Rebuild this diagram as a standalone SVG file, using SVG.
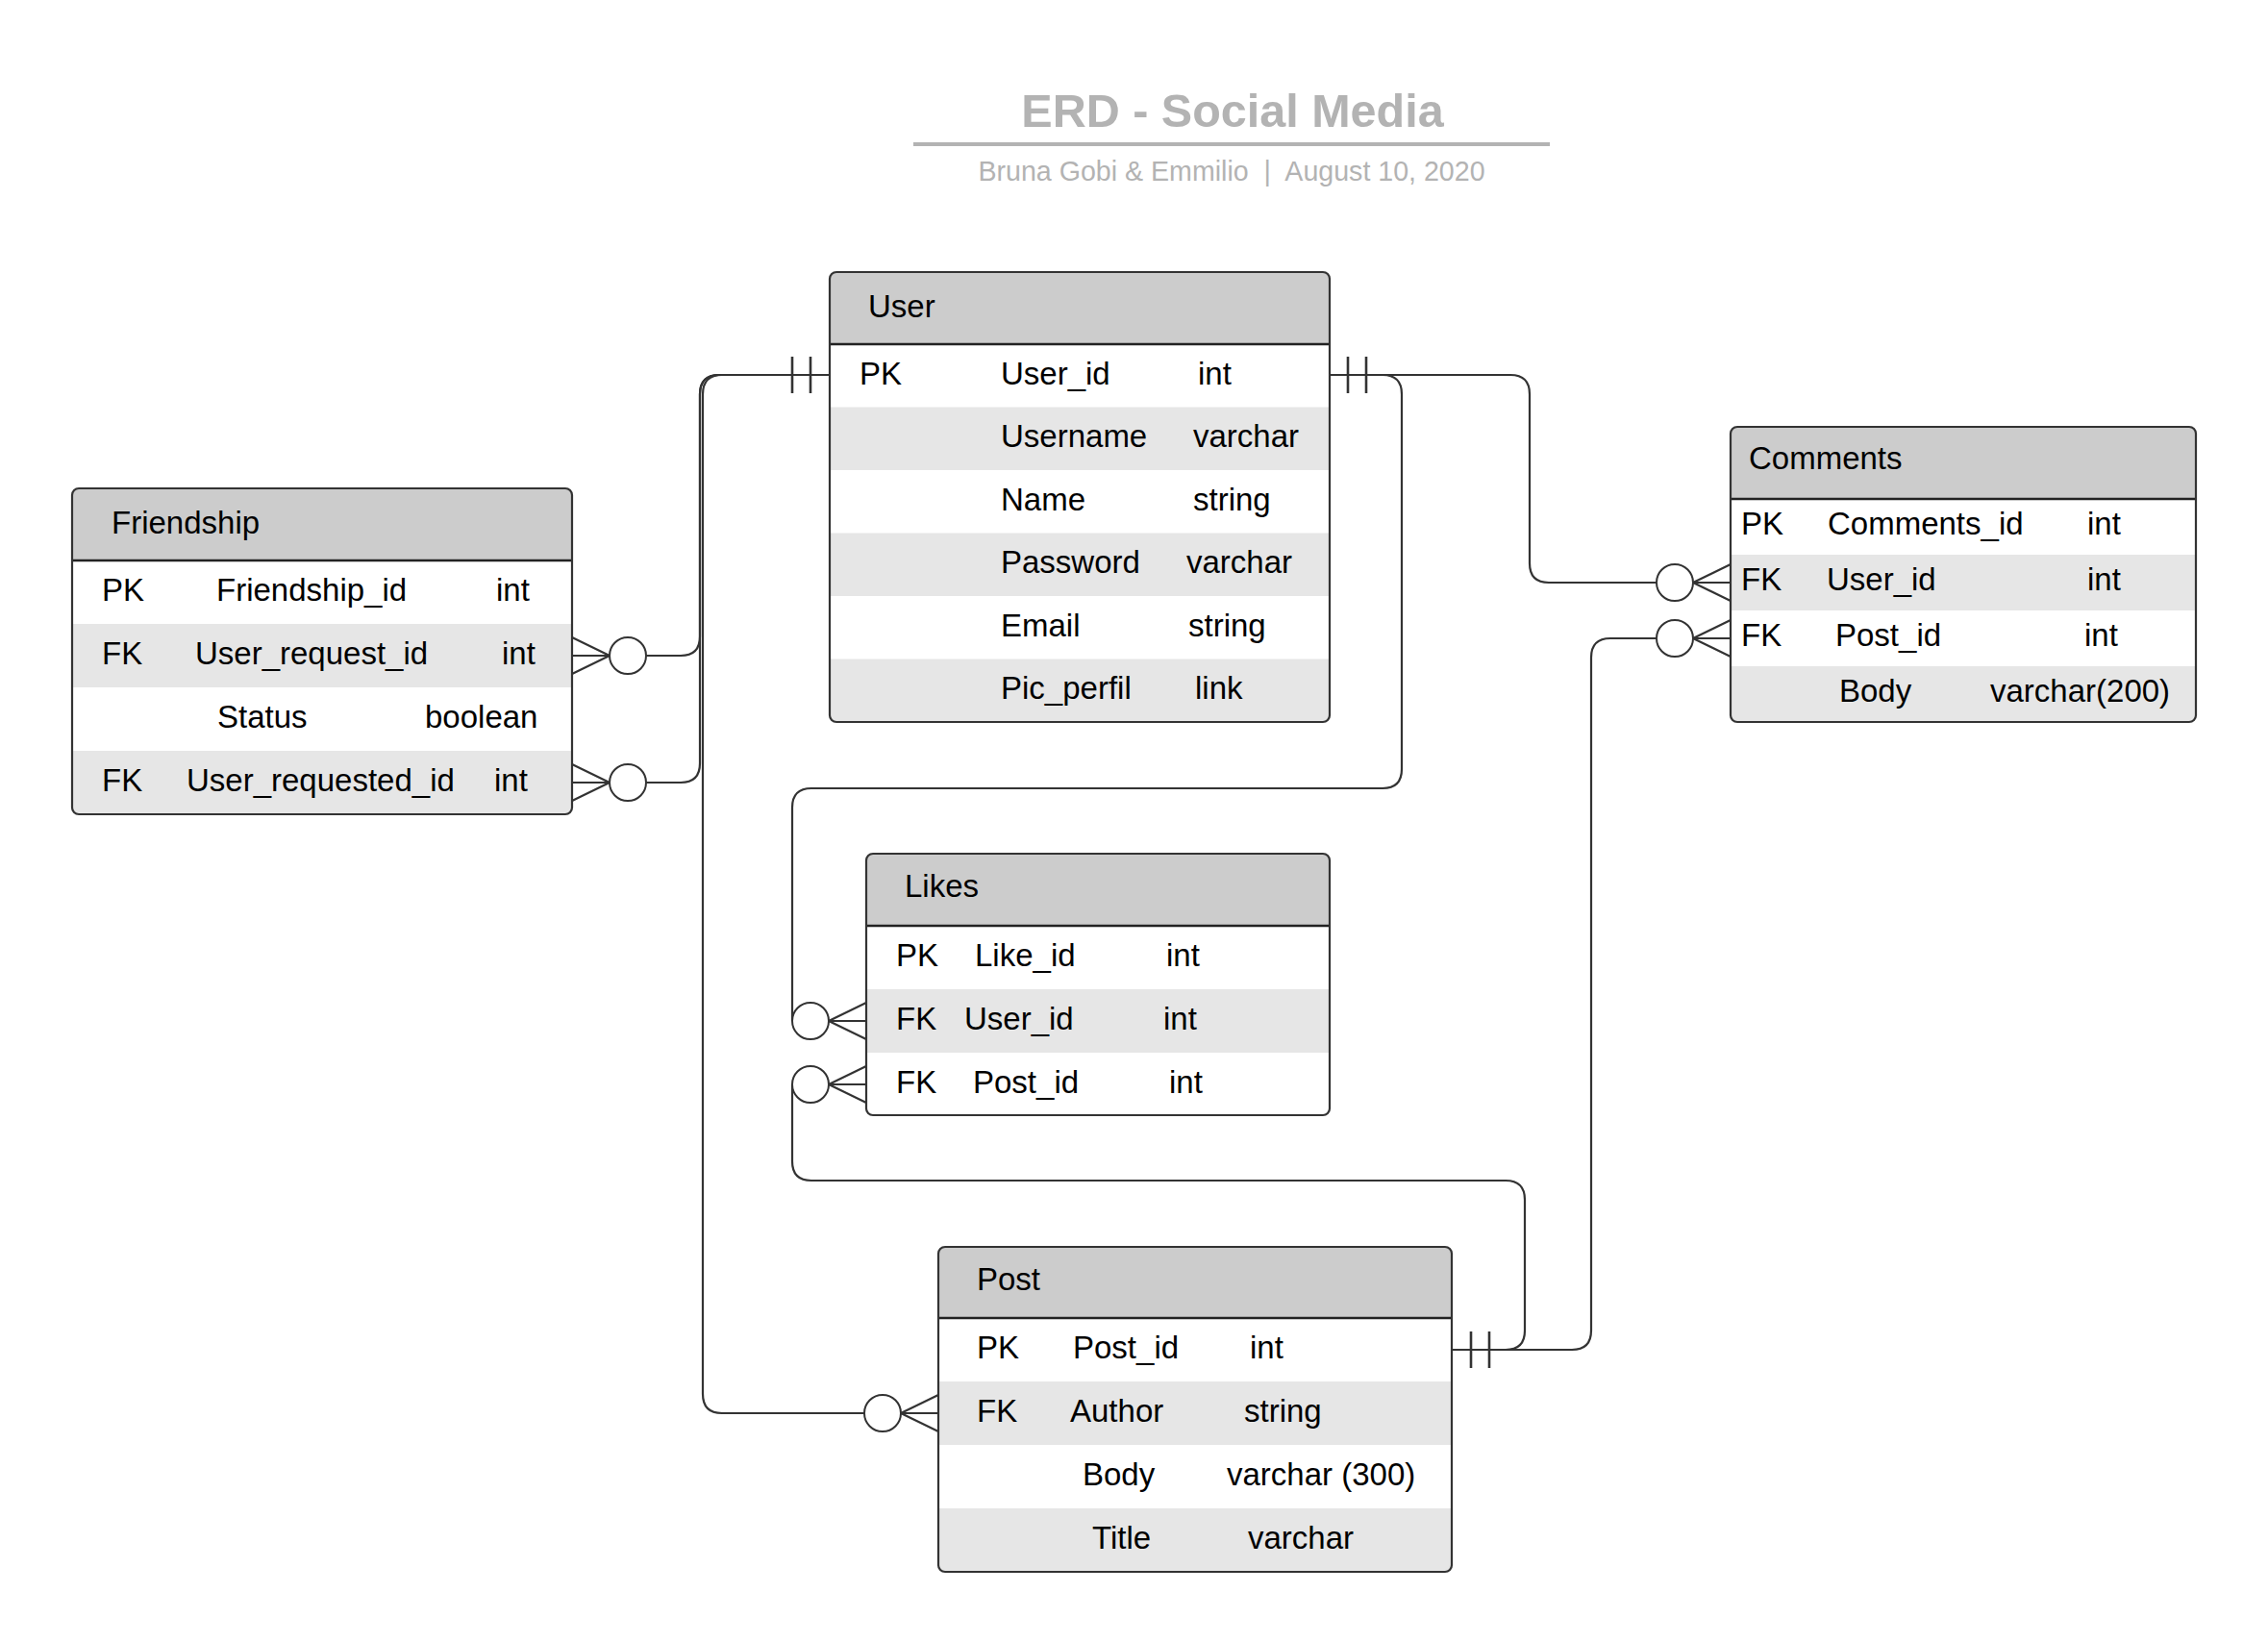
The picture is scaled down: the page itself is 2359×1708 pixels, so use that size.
<svg xmlns="http://www.w3.org/2000/svg" width="2359" height="1708" viewBox="0 0 2359 1708">
<style>
.t{font-family:"Liberation Sans",Arial,sans-serif;font-size:33px;fill:#000}
.hdr{fill:#cccccc}
.alt{fill:#e6e6e6}
.frame{fill:none;stroke:#333;stroke-width:2.2}
.sep{stroke:#222;stroke-width:2.5}
.ln{fill:none;stroke:#333;stroke-width:2.2}
.bar{stroke:#333;stroke-width:2.6}
.ring{fill:#fff;stroke:#333;stroke-width:2}
.ttl{font-family:"Liberation Sans",Arial,sans-serif;font-weight:bold;font-size:48.5px;fill:#b3b3b3}
.sub{font-family:"Liberation Sans",Arial,sans-serif;font-size:28.6px;fill:#b3b3b3}
</style>
<defs>
<clipPath id="cU"><rect x="863" y="283" width="520" height="468" rx="7"/></clipPath>
<clipPath id="cF"><rect x="75" y="508" width="520" height="339" rx="7"/></clipPath>
<clipPath id="cC"><rect x="1800" y="444" width="484" height="307" rx="7"/></clipPath>
<clipPath id="cL"><rect x="901" y="888" width="482" height="272" rx="7"/></clipPath>
<clipPath id="cP"><rect x="976" y="1297" width="534" height="338" rx="7"/></clipPath>
</defs>
<rect width="2359" height="1708" fill="#fff"/>

<g id="title">
<text class="ttl" x="1282" y="132" text-anchor="middle">ERD - Social Media</text>
<line x1="950" y1="150" x2="1612" y2="150" stroke="#b3b3b3" stroke-width="4"/>
<text class="sub" x="1281" y="188" text-anchor="middle" xml:space="preserve">Bruna Gobi &amp; Emmilio  |  August 10, 2020</text>
</g>

<g id="user">
<g clip-path="url(#cU)">
<rect x="863" y="283" width="520" height="468" fill="#fff"/>
<rect class="hdr" x="863" y="283" width="520" height="75"/>
<rect class="alt" x="863" y="423.5" width="520" height="65.5"/>
<rect class="alt" x="863" y="554.5" width="520" height="65.5"/>
<rect class="alt" x="863" y="685.5" width="520" height="65.5"/>
</g>
<line class="sep" x1="863" y1="358" x2="1383" y2="358"/>
<rect class="frame" x="863" y="283" width="520" height="468" rx="7"/>
<text class="t" x="903" y="330">User</text>
<text class="t" x="894" y="400">PK</text>
<text class="t" x="1041" y="400">User_id</text>
<text class="t" x="1246" y="400">int</text>
<text class="t" x="1041" y="465">Username</text>
<text class="t" x="1241" y="465">varchar</text>
<text class="t" x="1041" y="531">Name</text>
<text class="t" x="1241" y="531">string</text>
<text class="t" x="1041" y="596">Password</text>
<text class="t" x="1234" y="596">varchar</text>
<text class="t" x="1041" y="662">Email</text>
<text class="t" x="1236" y="662">string</text>
<text class="t" x="1041" y="727">Pic_perfil</text>
<text class="t" x="1243" y="727">link</text>
</g>

<g id="friendship">
<g clip-path="url(#cF)">
<rect x="75" y="508" width="520" height="339" fill="#fff"/>
<rect class="hdr" x="75" y="508" width="520" height="75"/>
<rect class="alt" x="75" y="649" width="520" height="66"/>
<rect class="alt" x="75" y="781" width="520" height="66"/>
</g>
<line class="sep" x1="75" y1="583" x2="595" y2="583"/>
<rect class="frame" x="75" y="508" width="520" height="339" rx="7"/>
<text class="t" x="116" y="555">Friendship</text>
<text class="t" x="106" y="625">PK</text>
<text class="t" x="225" y="625">Friendship_id</text>
<text class="t" x="516" y="625">int</text>
<text class="t" x="106" y="691">FK</text>
<text class="t" x="203" y="691">User_request_id</text>
<text class="t" x="522" y="691">int</text>
<text class="t" x="226" y="757">Status</text>
<text class="t" x="442" y="757">boolean</text>
<text class="t" x="106" y="823">FK</text>
<text class="t" x="194" y="823">User_requested_id</text>
<text class="t" x="514" y="823">int</text>
</g>

<g id="comments">
<g clip-path="url(#cC)">
<rect x="1800" y="444" width="484" height="307" fill="#fff"/>
<rect class="hdr" x="1800" y="444" width="484" height="75"/>
<rect class="alt" x="1800" y="577" width="484" height="58"/>
<rect class="alt" x="1800" y="693" width="484" height="58"/>
</g>
<line class="sep" x1="1800" y1="519" x2="2284" y2="519"/>
<rect class="frame" x="1800" y="444" width="484" height="307" rx="7"/>
<text class="t" x="1819" y="488">Comments</text>
<text class="t" x="1811" y="556">PK</text>
<text class="t" x="1901" y="556">Comments_id</text>
<text class="t" x="2171" y="556">int</text>
<text class="t" x="1811" y="614">FK</text>
<text class="t" x="1900" y="614">User_id</text>
<text class="t" x="2171" y="614">int</text>
<text class="t" x="1811" y="672">FK</text>
<text class="t" x="1909" y="672">Post_id</text>
<text class="t" x="2168" y="672">int</text>
<text class="t" x="1913" y="730">Body</text>
<text class="t" x="2070" y="730">varchar(200)</text>
</g>

<g id="likes">
<g clip-path="url(#cL)">
<rect x="901" y="888" width="482" height="272" fill="#fff"/>
<rect class="hdr" x="901" y="888" width="482" height="75"/>
<rect class="alt" x="901" y="1029" width="482" height="66"/>
</g>
<line class="sep" x1="901" y1="963" x2="1383" y2="963"/>
<rect class="frame" x="901" y="888" width="482" height="272" rx="7"/>
<text class="t" x="941" y="933">Likes</text>
<text class="t" x="932" y="1005">PK</text>
<text class="t" x="1014" y="1005">Like_id</text>
<text class="t" x="1213" y="1005">int</text>
<text class="t" x="932" y="1071">FK</text>
<text class="t" x="1003" y="1071">User_id</text>
<text class="t" x="1210" y="1071">int</text>
<text class="t" x="932" y="1137">FK</text>
<text class="t" x="1012" y="1137">Post_id</text>
<text class="t" x="1216" y="1137">int</text>
</g>

<g id="post">
<g clip-path="url(#cP)">
<rect x="976" y="1297" width="534" height="338" fill="#fff"/>
<rect class="hdr" x="976" y="1297" width="534" height="74"/>
<rect class="alt" x="976" y="1437" width="534" height="66"/>
<rect class="alt" x="976" y="1569" width="534" height="66"/>
</g>
<line class="sep" x1="976" y1="1371" x2="1510" y2="1371"/>
<rect class="frame" x="976" y="1297" width="534" height="338" rx="7"/>
<text class="t" x="1016" y="1342">Post</text>
<text class="t" x="1016" y="1413">PK</text>
<text class="t" x="1116" y="1413">Post_id</text>
<text class="t" x="1300" y="1413">int</text>
<text class="t" x="1016" y="1479">FK</text>
<text class="t" x="1113" y="1479">Author</text>
<text class="t" x="1294" y="1479">string</text>
<text class="t" x="1126" y="1545">Body</text>
<text class="t" x="1276" y="1545">varchar (300)</text>
<text class="t" x="1136" y="1611">Title</text>
<text class="t" x="1298" y="1611">varchar</text>
</g>

<g id="connectors">
<path class="ln" d="M863 390 H748 Q728 390 728 410 V662 Q728 682 708 682 H672"/>
<path class="ln" d="M863 390 H748 Q728 390 728 410 V794 Q728 814 708 814 H672"/>
<path class="ln" d="M863 390 H751 Q731 390 731 410 V1450 Q731 1470 751 1470 H899"/>
<path class="ln" d="M1383 390 H1438 Q1458 390 1458 410 V800 Q1458 820 1438 820 H844 Q824 820 824 840 V1062"/>
<path class="ln" d="M1383 390 H1571 Q1591 390 1591 410 V586 Q1591 606 1611 606 H1723"/>
<path class="ln" d="M1510 1404 H1566 Q1586 1404 1586 1384 V1248 Q1586 1228 1566 1228 H844 Q824 1228 824 1208 V1128"/>
<path class="ln" d="M1510 1404 H1635 Q1655 1404 1655 1384 V684 Q1655 664 1675 664 H1723"/>

<line class="bar" x1="824" y1="371" x2="824" y2="409"/>
<line class="bar" x1="843" y1="371" x2="843" y2="409"/>
<line class="bar" x1="1402" y1="371" x2="1402" y2="409"/>
<line class="bar" x1="1421" y1="371" x2="1421" y2="409"/>
<line class="bar" x1="1530" y1="1385" x2="1530" y2="1423"/>
<line class="bar" x1="1549" y1="1385" x2="1549" y2="1423"/>

<path class="ln" d="M595 663 L634 682 M595 682 H634 M595 701 L634 682"/>
<circle class="ring" cx="653" cy="682" r="19"/>
<path class="ln" d="M595 795 L634 814 M595 814 H634 M595 833 L634 814"/>
<circle class="ring" cx="653" cy="814" r="19"/>

<path class="ln" d="M976 1451 L937 1470 M976 1470 H937 M976 1489 L937 1470"/>
<circle class="ring" cx="918" cy="1470" r="19"/>

<path class="ln" d="M901 1043 L862 1062 M901 1062 H862 M901 1081 L862 1062"/>
<circle class="ring" cx="843" cy="1062" r="19"/>
<path class="ln" d="M901 1109 L862 1128 M901 1128 H862 M901 1147 L862 1128"/>
<circle class="ring" cx="843" cy="1128" r="19"/>

<path class="ln" d="M1800 587 L1761 606 M1800 606 H1761 M1800 625 L1761 606"/>
<circle class="ring" cx="1742" cy="606" r="19"/>
<path class="ln" d="M1800 645 L1761 664 M1800 664 H1761 M1800 683 L1761 664"/>
<circle class="ring" cx="1742" cy="664" r="19"/>
</g>
</svg>
